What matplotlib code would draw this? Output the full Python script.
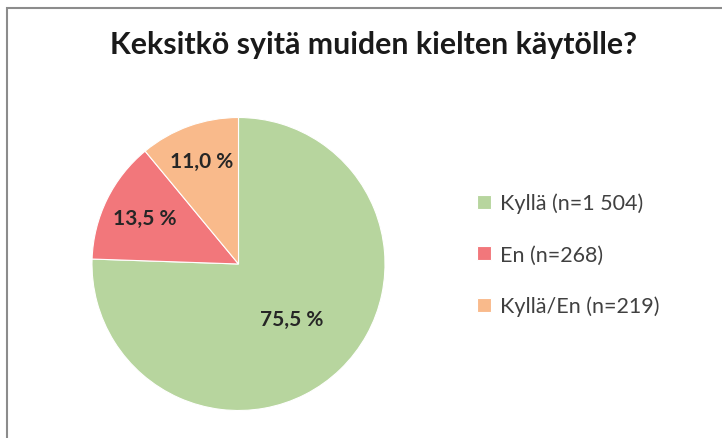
import numpy as np
import matplotlib
matplotlib.use("Agg")
from matplotlib import pyplot as plt
from matplotlib.patches import Rectangle

title = 'Keksitkö syitä muiden kielten käytölle?'
categories = ['Kyllä', 'En', 'Kyllä/En']
counts = [1504, 268, 219]
colors = ['#B7D59E', '#F2777B', '#F9BA8B']

def fmt_n(n):
  # thousands separated with a space, as in the original
  return '{:,}'.format(n).replace(',', ' ')

legend_labels = [c + ' (n=' + fmt_n(n) + ')' for c, n in zip(categories, counts)]

plt.rcParams['font.family'] = ['Lato', 'DejaVu Sans']

W, H = 722, 439
fig = plt.figure(figsize=(W / 100, H / 100), dpi=100)
ax = fig.add_axes([0, 0, 1, 1])

# chart frame (cropped on right and bottom)
ax.add_patch(Rectangle((6.5, -20), W + 20, H - 8.5 + 20, fill=False,
                       edgecolor='#8c8c8c', linewidth=1.5))

cx, cy, r = 238.5, H - 265, 146.5
wedges, texts, autotexts = ax.pie(
  counts, colors=colors, startangle=90, counterclock=False,
  center=(cx, cy), radius=r, frame=True,
  autopct=lambda p: '{:.1f} %'.format(p).replace('.', ','),
  pctdistance=0.7,
  wedgeprops=dict(linewidth=0.8, edgecolor='white'),
  textprops=dict(fontsize=15, fontweight='bold', color='#262626'))
ax.set_xlim(0, W)
ax.set_ylim(0, H)
ax.set_aspect('equal')
ax.axis('off')

# Excel placed the big slice label closer to the centre
label_dist = [0.52, 0.71, 0.75]
for t, d in zip(autotexts, label_dist):
  x, y = t.get_position()
  t.set_position((cx + (x - cx) * d / 0.7, cy + (y - cy) * d / 0.7))

ax.text(W / 2 + 13, H - 45, title, ha='center', va='center',
        fontsize=21.8, fontweight='bold', color='#1a1a1a')

leg = ax.legend(wedges, legend_labels, loc='upper left',
                bbox_to_anchor=(466 / W, 1 - 183 / H), frameon=False,
                fontsize=15.5, labelspacing=1.45, handlelength=0.65,
                handleheight=0.65, handletextpad=0.45, borderpad=0)
for t in leg.get_texts():
  t.set_color('#404040')

fig.savefig('out.png', dpi=100, facecolor='white')
